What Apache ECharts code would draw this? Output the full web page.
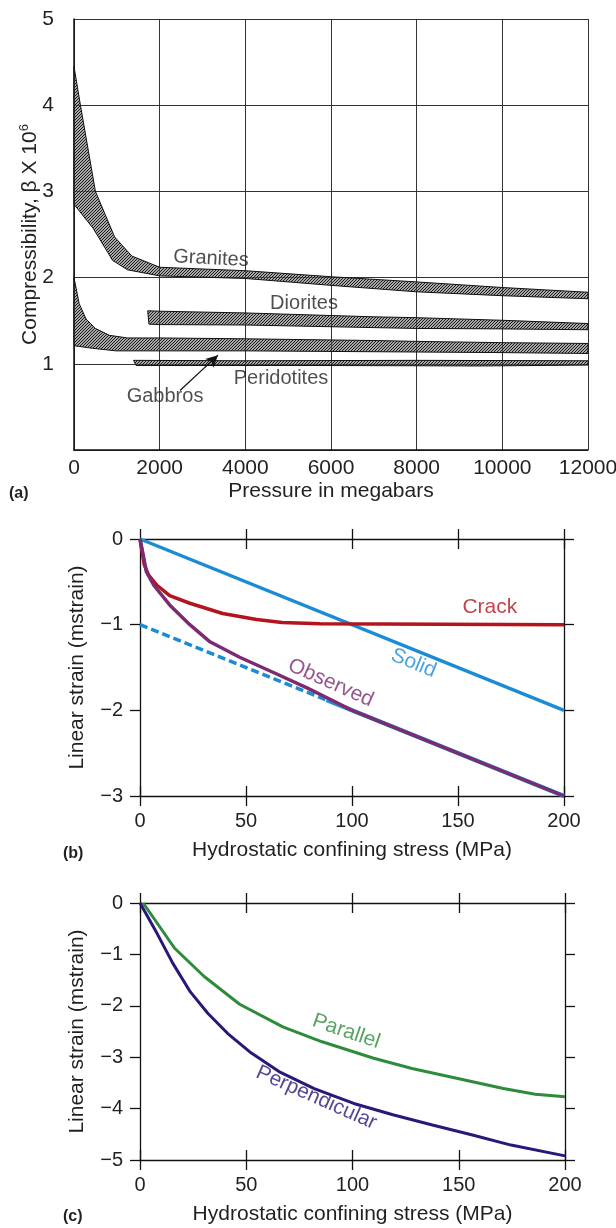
<!DOCTYPE html>
<html>
<head>
<meta charset="utf-8">
<title>Compressibility and linear strain</title>
<script src="https://cdn.jsdelivr.net/npm/echarts@6/dist/echarts.min.js"></script>
<style>
  html, body { margin: 0; padding: 0; background: #fff; }
  #chart { width: 616px; height: 1228px; }
</style>
</head>
<body>
<div id="chart"></div>
<script>
// Panel (a): compressibility bands, [pressure, beta x 10^6]
const graniteUpper = [[0, 4.45], [150, 4.0], [500, 3.0], [950, 2.47], [1350, 2.25], [2000, 2.12], [4000, 2.08], [6000, 2.01], [8000, 1.95], [10000, 1.885], [12000, 1.83]];
const graniteLower = [[0, 2.85], [450, 2.57], [900, 2.2], [1250, 2.09], [2000, 2.02], [4000, 1.99], [6000, 1.91], [8000, 1.835], [10000, 1.79], [12000, 1.755]];
const dioriteUpper = [[1720, 1.615], [2000, 1.61], [4000, 1.59], [7000, 1.545], [8000, 1.535], [10000, 1.505], [12000, 1.467]];
const dioriteLower = [[1750, 1.46], [2000, 1.455], [4000, 1.45], [7000, 1.42], [8000, 1.41], [10000, 1.405], [12000, 1.395]];
const gabbroUpper = [[0, 2.0], [120, 1.7], [280, 1.52], [500, 1.41], [830, 1.33], [1250, 1.3], [2000, 1.3], [4000, 1.29], [7000, 1.27], [8000, 1.26], [10000, 1.245], [12000, 1.236]];
const gabbroLower = [[0, 1.21], [430, 1.18], [980, 1.15], [2000, 1.15], [4000, 1.15], [7000, 1.14], [10000, 1.13], [12000, 1.12]];
const peridotiteUpper = [[1390, 1.04], [4000, 1.035], [8000, 1.04], [12000, 1.035]];
const peridotiteLower = [[1450, 0.98], [6000, 0.98], [9500, 0.975], [12000, 0.985]];
const rockNames = ["Granites", "Diorites", "Gabbros", "Peridotites"];
const rockLabelPos = [[3198, 2.22], [5370, 1.695], [2125, 0.62], [4833, 0.83]];
const gabbroArrow = [[2475, 0.69], [3362, 1.1]];

// Panel (b): linear strain vs confining stress, [MPa, mstrain]
const solidLine = [[0, 0], [200, -2]];
const solidShiftDashed = [[0, -1], [88, -1.88]];
const solidShiftUnder = [[88, -1.88], [200, -3]];
const crackLine = [[0, 0], [2, -0.3], [4, -0.42], [8, -0.54], [14, -0.66], [23.5, -0.75], [39, -0.87], [55, -0.94], [67, -0.975], [85, -0.99], [200, -1.0]];
const observedLine = [[0, 0], [1, -0.12], [2, -0.25], [3, -0.38], [6.5, -0.54], [14, -0.77], [23.5, -1.0], [33, -1.2], [47, -1.38], [64, -1.57], [79, -1.74], [92, -1.9], [100, -2.0], [200, -3.0]];

// Panel (c)
const parallelLine = [[1.5, 0], [16.3, -0.88], [30.2, -1.43], [46.9, -1.97], [67.2, -2.41], [85.7, -2.7], [110, -3.02], [128, -3.22], [149, -3.41], [171, -3.61], [186, -3.72], [200, -3.77]];
const perpendicularLine = [[0, 0], [8, -0.59], [15.4, -1.17], [23.7, -1.73], [32, -2.15], [41.3, -2.54], [52.4, -2.92], [65.4, -3.28], [82, -3.61], [100.6, -3.9], [119, -4.12], [137.6, -4.32], [156, -4.51], [174.6, -4.71], [200, -4.92]];

// Curve labels: [text, x, y, rotate, colour]
const strainLabelsB = [["Crack", 165, -0.8, 0, "#b3141e"], ["Solid", 129, -1.45, -22, "#1b8cd4"], ["Observed", 90, -1.68, -24, "#7d2b70"]];
const strainLabelsC = [["Parallel", 97, -2.5, -19, "#2e8b3c"], ["Perpendicular", 83, -3.79, -24, "#26197a"]];

const FONT = "'Liberation Sans', Arial, Helvetica, sans-serif";
const INK = "#231f20";

// Hatch pattern for the bands
function makeHatch() {
  const c = document.createElement("canvas");
  c.width = 3;
  c.height = 3;
  const ctx = c.getContext("2d");
  ctx.fillStyle = "rgba(200,200,200,0.45)";
  ctx.fillRect(0, 0, 3, 3);
  ctx.strokeStyle = "#111";
  ctx.lineWidth = 1.1;
  ctx.beginPath();
  ctx.moveTo(0, 3); ctx.lineTo(3, 0);
  ctx.moveTo(-1, 1); ctx.lineTo(1, -1);
  ctx.moveTo(2, 4); ctx.lineTo(4, 2);
  ctx.stroke();
  return c;
}
const hatch = makeHatch();

function bandSeries(name, upper, lower) {
  return {
    name: name,
    type: "custom",
    xAxisIndex: 0,
    yAxisIndex: 0,
    data: [0],
    z: 3,
    silent: true,
    renderItem: function (params, api) {
      const pts = upper.map((p) => api.coord(p))
        .concat(lower.slice().reverse().map((p) => api.coord(p)));
      return {
        type: "polygon",
        shape: { points: pts },
        style: { fill: { image: hatch, repeat: "repeat" }, stroke: "#111", lineWidth: 1 },
      };
    },
  };
}

function minus(v) {
  return v < 0 ? "\u2212" + (-v) : String(v);
}

const axisLineStyle = { color: "#111", width: 1.3 };

// Four x axes per strain panel: ticks that cross the bottom and top lines
function strainXAxes(grid) {
  const common = {
    gridIndex: grid, type: "value", min: 0, max: 200, interval: 50,
    splitLine: { show: false },
  };
  const tick = { show: true, length: 10, lineStyle: axisLineStyle };
  return [
    Object.assign({}, common, {
      position: "bottom",
      axisLine: { show: true, onZero: false, lineStyle: axisLineStyle },
      axisTick: tick,
      axisLabel: { fontSize: 20, color: INK, fontFamily: FONT, margin: 15 },
      name: "Hydrostatic confining stress (MPa)",
      nameLocation: "middle",
      nameGap: 44,
      nameMoveOverlap: false,
      nameTextStyle: { fontSize: 21, color: INK, fontFamily: FONT },
    }),
    Object.assign({}, common, {
      position: "bottom",
      axisLine: { show: false, onZero: false },
      axisTick: Object.assign({ inside: true }, tick),
      axisLabel: { show: false },
    }),
    Object.assign({}, common, {
      position: "top",
      axisLine: { show: true, onZero: false, lineStyle: axisLineStyle },
      axisTick: tick,
      axisLabel: { show: false },
    }),
    Object.assign({}, common, {
      position: "top",
      axisLine: { show: false, onZero: false },
      axisTick: Object.assign({ inside: true }, tick),
      axisLabel: { show: false },
    }),
  ];
}

function strainYAxes(grid, yMin) {
  const common = {
    gridIndex: grid, type: "value", min: yMin, max: 0, interval: 1,
    splitLine: { show: false },
    axisLine: { show: true, onZero: false, lineStyle: axisLineStyle },
    axisTick: { show: true, length: 10, lineStyle: axisLineStyle },
  };
  return [
    Object.assign({}, common, {
      position: "left",
      axisLabel: { fontSize: 20, color: INK, fontFamily: FONT, margin: 17, formatter: minus },
      name: "Linear strain (mstrain)",
      nameLocation: "middle",
      nameGap: 52,
      nameMoveOverlap: false,
      nameTextStyle: { fontSize: 21, color: INK, fontFamily: FONT },
    }),
    Object.assign({}, common, {
      position: "right",
      axisLabel: { show: false },
    }),
  ];
}

function strainLine(name, data, color, xIdx, yIdx, width, dashed) {
  return {
    name: name,
    type: "line",
    xAxisIndex: xIdx,
    yAxisIndex: yIdx,
    data: data,
    symbol: "none",
    z: 4,
    lineStyle: { color: color, width: width, type: dashed ? [8, 4] : "solid", cap: "butt" },
  };
}

function labelSeries(labels, xIdx, yIdx, size) {
  return {
    type: "scatter",
    xAxisIndex: xIdx,
    yAxisIndex: yIdx,
    symbolSize: 0,
    silent: true,
    z: 6,
    data: labels.map((l) => ({
      name: l[0],
      value: [l[1], l[2]],
      label: { rotate: l[3], color: l[4] },
    })),
    label: {
      show: true, position: "inside", formatter: "{b}",
      fontSize: size, fontFamily: FONT,
    },
  };
}

const chart = echarts.init(document.getElementById("chart"), null, { renderer: "canvas" });

const option = {
  backgroundColor: "#fff",
  animation: false,
  textStyle: { fontFamily: FONT },
  grid: [
    { left: 74, top: 19, width: 514, height: 431, outerBoundsMode: "none", containLabel: false },
    { left: 140, top: 539, width: 424, height: 257, outerBoundsMode: "none", containLabel: false },
    { left: 140, top: 903, width: 425, height: 257, outerBoundsMode: "none", containLabel: false },
  ],
  xAxis: [
    {
      gridIndex: 0, type: "value", min: 0, max: 12000, interval: 2000,
      axisLine: { show: true, onZero: false, lineStyle: { color: "#111", width: 1.5 } },
      axisTick: { show: false },
      axisLabel: { fontSize: 21, color: INK, fontFamily: FONT, margin: 8, formatter: (v) => String(v) },
      splitLine: { show: true, lineStyle: { color: "#333", width: 1 } },
      name: "Pressure in megabars",
      nameLocation: "middle",
      nameGap: 31,
      nameMoveOverlap: false,
      nameTextStyle: { fontSize: 21, color: INK, fontFamily: FONT },
    },
  ].concat(strainXAxes(1), strainXAxes(2)),
  yAxis: [
    {
      gridIndex: 0, type: "value", min: 0, max: 5, interval: 1,
      axisLine: { show: true, onZero: false, lineStyle: { color: "#111", width: 1.5 } },
      axisTick: { show: false },
      axisLabel: {
        fontSize: 21, color: INK, fontFamily: FONT, margin: 20,
        formatter: (v) => (v === 0 ? "" : String(v)),
      },
      splitLine: { show: true, lineStyle: { color: "#333", width: 1 } },
      name: "Compressibility, \u03b2 X 10{sup|6}",
      nameLocation: "middle",
      nameGap: 31,
      nameMoveOverlap: false,
      nameTextStyle: {
        fontSize: 21, color: INK, fontFamily: FONT,
        rich: { sup: { fontSize: 13, color: INK, fontFamily: FONT, verticalAlign: "top", padding: [0, 0, 12, 0] } },
      },
    },
  ].concat(strainYAxes(1, -3), strainYAxes(2, -5)),
  series: [
    bandSeries("Granites", graniteUpper, graniteLower),
    bandSeries("Diorites", dioriteUpper, dioriteLower),
    bandSeries("Gabbros", gabbroUpper, gabbroLower),
    bandSeries("Peridotites", peridotiteUpper, peridotiteLower),
    {
      type: "scatter",
      xAxisIndex: 0,
      yAxisIndex: 0,
      symbolSize: 0,
      silent: true,
      z: 6,
      data: rockNames.map((n, i) => ({
        name: n,
        value: rockLabelPos[i],
        label: { rotate: n === "Granites" ? -3 : 0 },
      })),
      label: { show: true, position: "inside", formatter: "{b}", fontSize: 20, color: INK, fontFamily: FONT },
      markLine: {
        silent: true,
        symbol: ["none", "arrow"],
        symbolSize: [9, 12],
        label: { show: false },
        lineStyle: { color: "#111", width: 1.2, type: "solid" },
        data: [[{ coord: gabbroArrow[0] }, { coord: gabbroArrow[1] }]],
      },
    },
    // panel (b): x axes 1..4, y axes 1..2
    strainLine("Solid", solidLine, "#1b8cd4", 1, 1, 3.5, false),
    strainLine("Solid shifted", solidShiftDashed, "#1b8cd4", 1, 1, 3.5, true),
    strainLine("Solid shifted under", solidShiftUnder, "#1b8cd4", 1, 1, 4.2, false),
    strainLine("Crack", crackLine, "#b3141e", 1, 1, 3.5, false),
    strainLine("Observed", observedLine, "#7d2b70", 1, 1, 3.5, false),
    labelSeries(strainLabelsB, 1, 1, 21),
    // panel (c): x axes 5..8, y axes 3..4
    strainLine("Parallel", parallelLine, "#2e8b3c", 5, 3, 3, false),
    strainLine("Perpendicular", perpendicularLine, "#26197a", 5, 3, 3, false),
    labelSeries(strainLabelsC, 5, 3, 21),
  ],
  graphic: [
    { type: "text", left: 9, top: 486, style: { text: "(a)", font: "bold 16px " + FONT, fill: INK } },
    { type: "text", left: 63, top: 846, style: { text: "(b)", font: "bold 16px " + FONT, fill: INK } },
    { type: "text", left: 63, top: 1209, style: { text: "(c)", font: "bold 16px " + FONT, fill: INK } },
  ],
};

chart.setOption(option);
</script>
</body>
</html>
